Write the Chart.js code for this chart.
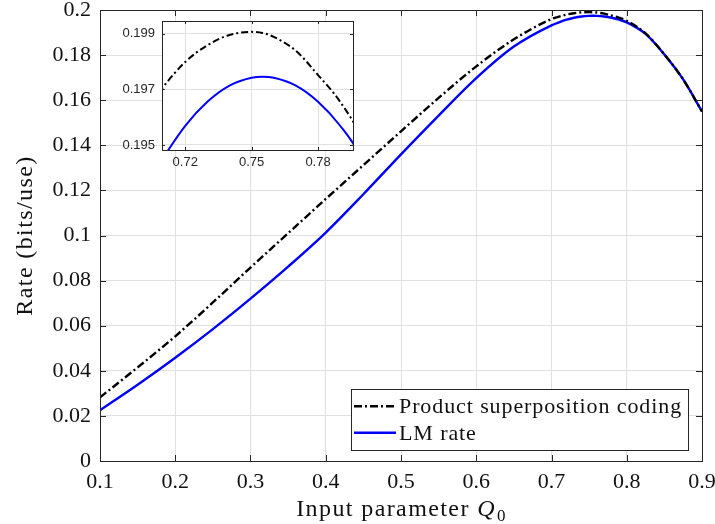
<!DOCTYPE html>
<html><head><meta charset="utf-8">
<script src="https://cdn.jsdelivr.net/npm/chart.js@4.4.1/dist/chart.umd.min.js"></script>
<style>
html,body{margin:0;padding:0;background:#fff;}
#wrap{position:relative;width:715px;height:524px;overflow:hidden;}
#main{position:absolute;left:0;top:0;}
#inset{position:absolute;left:100px;top:0;}
</style></head><body>
<div id="wrap"><canvas id="main" width="715" height="524"></canvas><canvas id="inset" width="265" height="175"></canvas></div>
<script>
// ---- data ----
const q0 = [0.10,0.15,0.20,0.25,0.30,0.35,0.40,0.45,0.50,0.55,0.60,0.65,0.70,0.71,0.72,0.73,0.74,0.75,0.755,0.76,0.77,0.78,0.79,0.80,0.825,0.85,0.875,0.90];
const productSC = [0.0282,0.0415,0.0553,0.0703,0.0858,0.1010,0.1162,0.1312,0.1462,0.1610,0.1750,0.1870,0.1960,0.19708,0.19798,0.19858,0.19895,0.19906,0.19902,0.19888,0.19838,0.19751,0.19655,0.19520,0.1896,0.1803,0.1692,0.1550];
const lmRate = [0.0225,0.0338,0.0458,0.0585,0.0720,0.0862,0.1013,0.1183,0.1360,0.1532,0.1698,0.1838,0.1932,0.19453,0.19569,0.19655,0.19713,0.19741,0.19745,0.19741,0.19713,0.19655,0.19569,0.19450,0.1894,0.1803,0.1692,0.1550];
const seriesLabels = ['Product superposition coding','LM rate'];
const xTicks = [0.1,0.2,0.3,0.4,0.5,0.6,0.7,0.8,0.9];
const yTicks = [0,0.02,0.04,0.06,0.08,0.1,0.12,0.14,0.16,0.18,0.2];
const insetXTicks = [0.72,0.75,0.78];
const insetYTicks = [0.195,0.197,0.199];
const xTitleParts = ['Input parameter ','Q','0'];
const yTitle = 'Rate (bits/use)';

// ---- styling ----
const AX = '#262626', GRID = '#e0e0e0', TXT = '#111';
const SERIF = '"Liberation Serif","Times New Roman",serif';
const SANS = '"Liberation Sans",Arial,sans-serif';
const fmt = v => String(parseFloat(Number(v).toFixed(5)));
const pts = ys => q0.map((x,i)=>({x:x, y:ys[i]}));

function makeDatasets(lw, dash){
  return [
    {label:seriesLabels[0], data:pts(productSC), borderColor:'#000000', borderWidth:lw, borderDash:dash,
     pointRadius:0, fill:false, cubicInterpolationMode:'monotone', clip:0},
    {label:seriesLabels[1], data:pts(lmRate), borderColor:'#0000ff', borderWidth:lw,
     pointRadius:0, fill:false, cubicInterpolationMode:'monotone', clip:0}
  ];
}

const framePlugin = {
  id:'frame',
  beforeDraw(chart, args, o){
    if(!o.bg) return;
    const a = chart.chartArea, ctx = chart.ctx;
    ctx.save(); ctx.fillStyle = o.bg;
    ctx.fillRect(a.left, a.top, a.right-a.left, a.bottom-a.top);
    ctx.restore();
  },
  afterDatasetsDraw(chart, args, o){
    const {ctx, chartArea:a, scales:{x, y}} = chart;
    const L = o.len;
    ctx.save();
    ctx.strokeStyle = o.color; ctx.lineWidth = 1;
    ctx.beginPath();
    x.ticks.forEach(t=>{
      const px = Math.round(x.getPixelForValue(t.value))+0.5;
      ctx.moveTo(px, a.bottom); ctx.lineTo(px, a.bottom-L);
      ctx.moveTo(px, a.top); ctx.lineTo(px, a.top+L);
    });
    y.ticks.forEach(t=>{
      const py = Math.round(y.getPixelForValue(t.value))+0.5;
      ctx.moveTo(a.left, py); ctx.lineTo(a.left+L, py);
      ctx.moveTo(a.right, py); ctx.lineTo(a.right-L, py);
    });
    ctx.stroke();
    ctx.strokeRect(Math.round(a.left)+0.5, Math.round(a.top)+0.5, Math.round(a.right-a.left), Math.round(a.bottom-a.top));
    ctx.restore();
  }
};

const titlePlugin = {
  id:'titles',
  afterDraw(chart){
    const {ctx, chartArea:a} = chart;
    ctx.save();
    ctx.fillStyle = TXT;
    if ('letterSpacing' in ctx) ctx.letterSpacing = '1.4px';
    const fN = '24px '+SERIF, fI = 'italic 24px '+SERIF, fS = '17px '+SERIF;
    ctx.font = fN; const w1 = ctx.measureText(xTitleParts[0]).width;
    ctx.font = fI; const w2 = ctx.measureText(xTitleParts[1]).width;
    ctx.font = fS; const w3 = ctx.measureText(xTitleParts[2]).width;
    let x0 = (a.left+a.right)/2 - (w1+w2+w3)/2;
    const yb = 516;
    ctx.textAlign = 'left'; ctx.textBaseline = 'alphabetic';
    ctx.font = fN; ctx.fillText(xTitleParts[0], x0, yb); x0 += w1;
    ctx.font = fI; ctx.fillText(xTitleParts[1], x0, yb); x0 += w2 + 1;
    ctx.font = fS; ctx.fillText(xTitleParts[2], x0, yb + 5);
    ctx.font = fN;
    ctx.translate(26, (a.top+a.bottom)/2);
    ctx.rotate(-Math.PI/2);
    ctx.textAlign = 'center'; ctx.textBaseline = 'middle';
    ctx.fillText(yTitle, 0, 0);
    ctx.restore();
  }
};

const legendPlugin = {
  id:'boxLegend',
  afterDraw(chart, args, o){
    const ctx = chart.ctx;
    const ds = chart.data.datasets;
    ctx.save();
    ctx.font = '22px '+SERIF;
    if ('letterSpacing' in ctx) ctx.letterSpacing = '0.9px';
    const maxW = Math.max(...ds.map(d=>ctx.measureText(d.label).width));
    const left = o.left, top = o.top;
    const right = left + o.inset + o.sample + o.gap + maxW + o.padR;
    const bottom = top + o.padV*2 + o.rowH*ds.length;
    ctx.fillStyle = '#fff';
    ctx.fillRect(left, top, right-left, bottom-top);
    ctx.strokeStyle = AX; ctx.lineWidth = 1;
    ctx.strokeRect(Math.round(left)+0.5, Math.round(top)+0.5, Math.round(right-left), Math.round(bottom-top));
    ds.forEach((d,i)=>{
      const cy = top + o.padV + o.rowH*(i+0.5);
      ctx.beginPath();
      ctx.strokeStyle = d.borderColor; ctx.lineWidth = d.borderWidth;
      ctx.setLineDash(d.borderDash || []);
      ctx.moveTo(left+o.inset, cy); ctx.lineTo(left+o.inset+o.sample, cy);
      ctx.stroke();
      ctx.setLineDash([]);
      ctx.fillStyle = TXT; ctx.textAlign='left'; ctx.textBaseline='middle';
      ctx.fillText(d.label, left+o.inset+o.sample+o.gap, cy+1);
    });
    ctx.restore();
  }
};

function tickSetter(arr){ return s => { s.ticks = arr.map(v=>({value:v})); }; }
function fixX(h){ return s => { s.height = h; s.paddingLeft = 0; s.paddingRight = 0; }; }
function fixY(w){ return s => { s.width = w; s.paddingTop = 0; s.paddingBottom = 0; }; }

new Chart(document.getElementById('main'), {
  type:'line',
  data:{datasets: makeDatasets(2.4, [8,3,2,3])},
  options:{
    responsive:false, animation:false, events:[],
    layout:{padding:{left:0, top:10, right:13, bottom:0}},
    plugins:{
      legend:{display:false}, tooltip:{enabled:false},
      frame:{color:AX, len:6},
      boxLegend:{left:351, top:389, inset:3, sample:42, gap:3, padR:6, padV:4, rowH:26.5}
    },
    scales:{
      x:{type:'linear', min:0.1, max:0.9,
         afterBuildTicks: tickSetter(xTicks), afterFit: fixX(63),
         grid:{color:GRID, lineWidth:1, drawTicks:false}, border:{display:false},
         ticks:{color:TXT, font:{family:SERIF, size:22}, padding:8, maxRotation:0, autoSkip:false, callback:v=>fmt(v)}},
      y:{type:'linear', min:0, max:0.2,
         afterBuildTicks: tickSetter(yTicks), afterFit: fixY(100),
         grid:{color:GRID, lineWidth:1, drawTicks:false}, border:{display:false},
         ticks:{color:TXT, font:{family:SERIF, size:22}, padding:9, autoSkip:false, callback:v=>fmt(v)}}
    }
  },
  plugins:[framePlugin, titlePlugin, legendPlugin]
});

new Chart(document.getElementById('inset'), {
  type:'line',
  data:{datasets: makeDatasets(2, [7,3,2,3])},
  options:{
    responsive:false, animation:false, events:[],
    layout:{padding:{left:0, top:21, right:12, bottom:0}},
    plugins:{legend:{display:false}, tooltip:{enabled:false}, frame:{color:AX, len:3, bg:'#ffffff'}},
    scales:{
      x:{type:'linear', min:0.7095, max:0.7958,
         afterBuildTicks: tickSetter(insetXTicks), afterFit: fixX(25),
         grid:{color:GRID, lineWidth:1, drawTicks:false}, border:{display:false},
         ticks:{color:AX, font:{family:SANS, size:13}, padding:5, maxRotation:0, autoSkip:false, callback:v=>fmt(v)}},
      y:{type:'linear', min:0.19482, max:0.19945,
         afterBuildTicks: tickSetter(insetYTicks), afterFit: fixY(62),
         grid:{color:GRID, lineWidth:1, drawTicks:false}, border:{display:false},
         ticks:{color:AX, font:{family:SANS, size:13}, padding:7, autoSkip:false, callback:v=>fmt(v)}}
    }
  },
  plugins:[framePlugin]
});
</script>
</body></html>
